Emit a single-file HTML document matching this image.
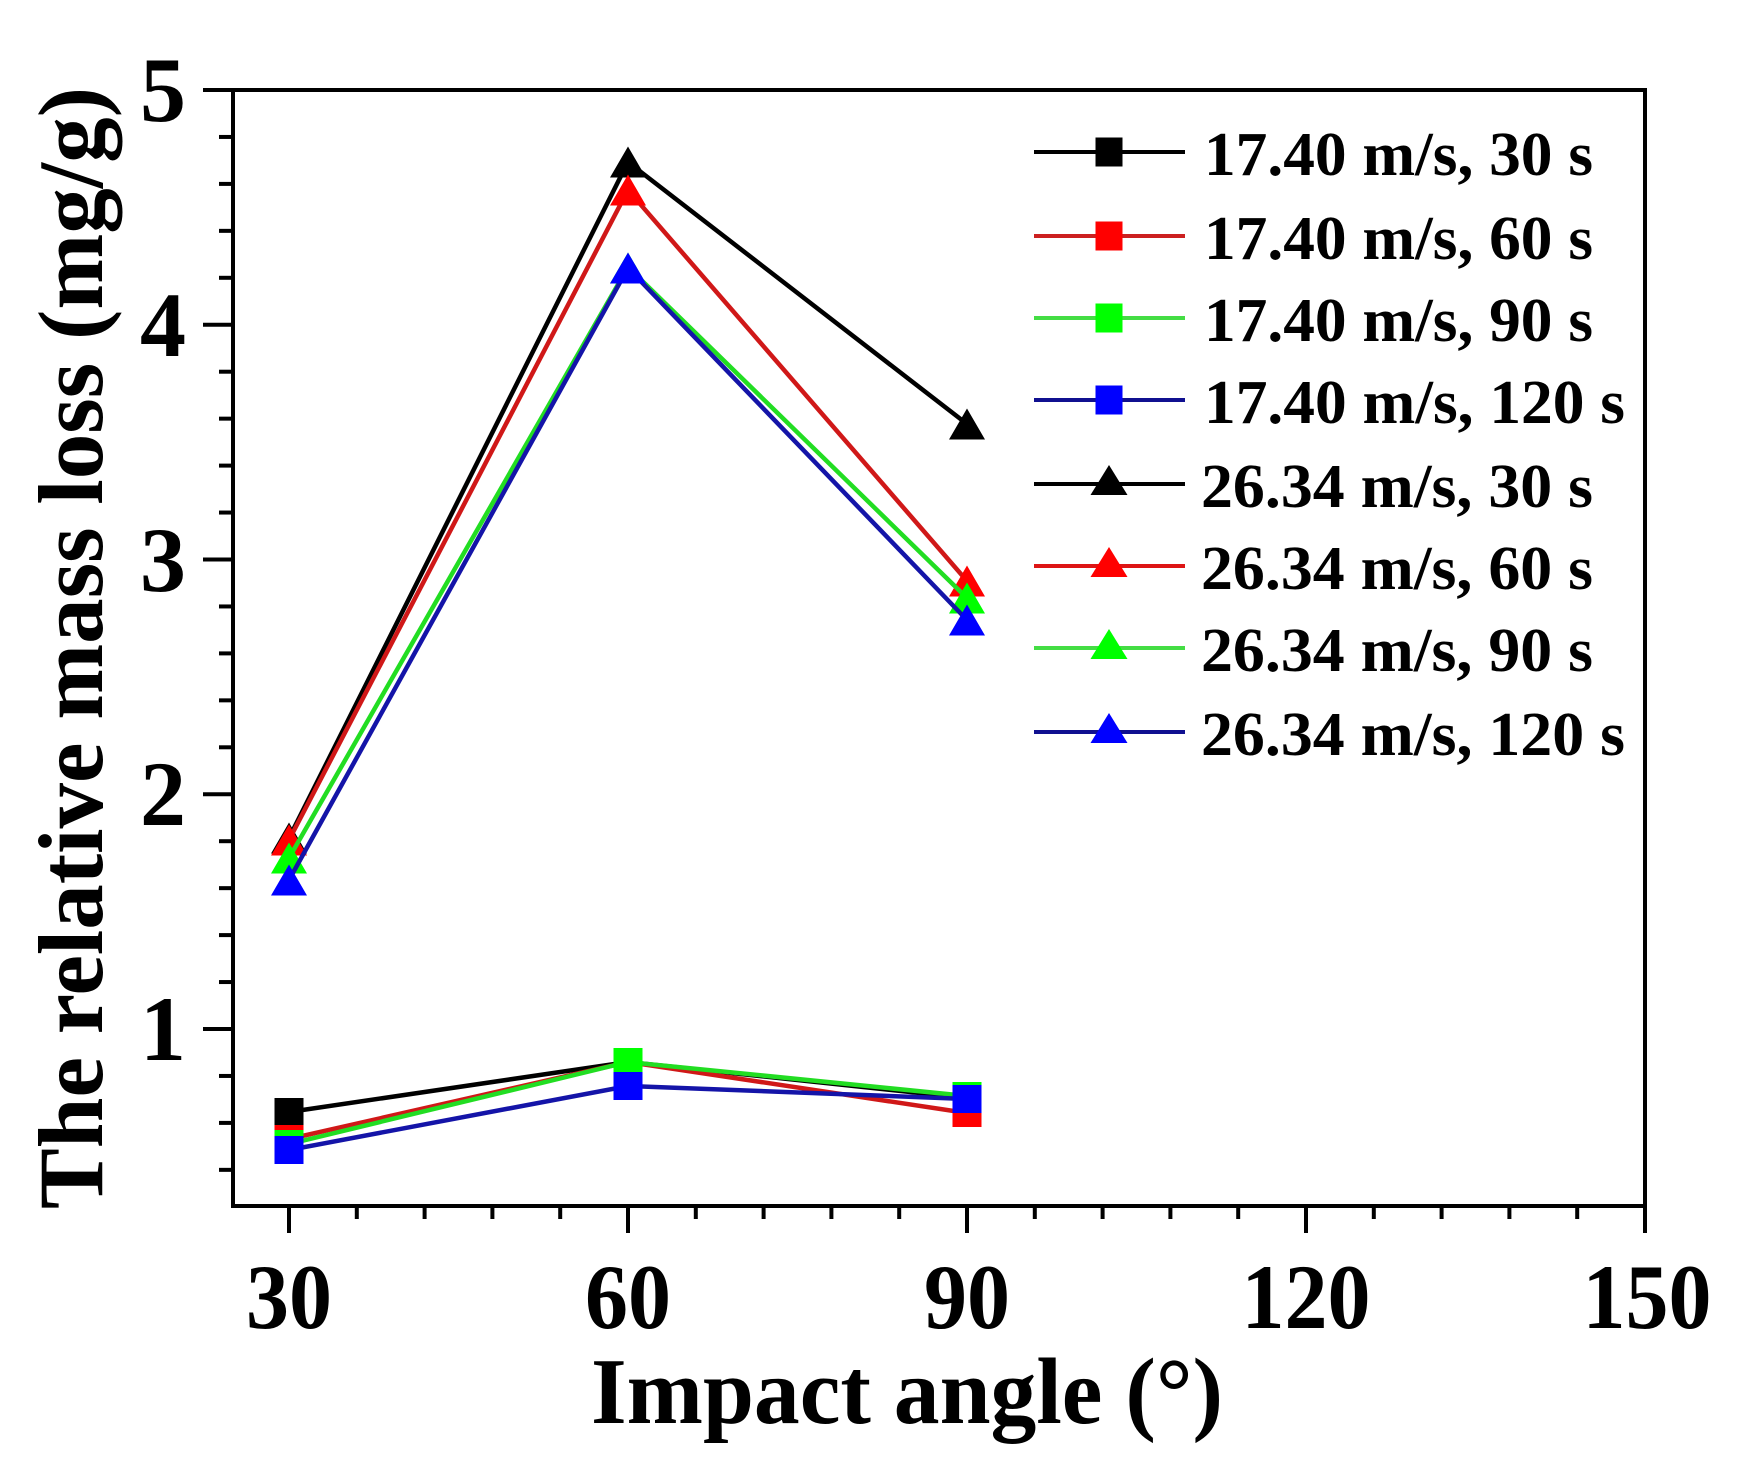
<!DOCTYPE html>
<html>
<head>
<meta charset="utf-8">
<style>
  html,body{margin:0;padding:0;background:#fff;}
  svg{display:block;}
  text{font-family:"Liberation Serif","Times New Roman",serif;font-weight:bold;fill:#000;}
</style>
</head>
<body>
<svg width="1760" height="1473" viewBox="0 0 1760 1473" xmlns="http://www.w3.org/2000/svg">
  <rect x="0" y="0" width="1760" height="1473" fill="#fff"/>

  <!-- Frame -->
  <rect x="233" y="90" width="1412" height="1116" fill="none" stroke="#000" stroke-width="4"/>

  <!-- Y major ticks -->
  <g stroke="#000" stroke-width="4">
    <line x1="203" y1="90" x2="233" y2="90"/>
    <line x1="203" y1="324.75" x2="233" y2="324.75"/>
    <line x1="203" y1="559.5" x2="233" y2="559.5"/>
    <line x1="203" y1="794.25" x2="233" y2="794.25"/>
    <line x1="203" y1="1029" x2="233" y2="1029"/>
  </g>
  <!-- Y minor ticks -->
  <g stroke="#000" stroke-width="4">
    <line x1="219" y1="136.95" x2="233" y2="136.95"/>
    <line x1="219" y1="183.9" x2="233" y2="183.9"/>
    <line x1="219" y1="230.85" x2="233" y2="230.85"/>
    <line x1="219" y1="277.8" x2="233" y2="277.8"/>
    <line x1="219" y1="371.7" x2="233" y2="371.7"/>
    <line x1="219" y1="418.65" x2="233" y2="418.65"/>
    <line x1="219" y1="465.6" x2="233" y2="465.6"/>
    <line x1="219" y1="512.55" x2="233" y2="512.55"/>
    <line x1="219" y1="606.45" x2="233" y2="606.45"/>
    <line x1="219" y1="653.4" x2="233" y2="653.4"/>
    <line x1="219" y1="700.35" x2="233" y2="700.35"/>
    <line x1="219" y1="747.3" x2="233" y2="747.3"/>
    <line x1="219" y1="841.2" x2="233" y2="841.2"/>
    <line x1="219" y1="888.15" x2="233" y2="888.15"/>
    <line x1="219" y1="935.1" x2="233" y2="935.1"/>
    <line x1="219" y1="982.05" x2="233" y2="982.05"/>
    <line x1="219" y1="1075.95" x2="233" y2="1075.95"/>
    <line x1="219" y1="1122.9" x2="233" y2="1122.9"/>
    <line x1="219" y1="1169.85" x2="233" y2="1169.85"/>
  </g>

  <!-- X major ticks -->
  <g stroke="#000" stroke-width="4">
    <line x1="289" y1="1206" x2="289" y2="1233"/>
    <line x1="628" y1="1206" x2="628" y2="1233"/>
    <line x1="967" y1="1206" x2="967" y2="1233"/>
    <line x1="1306" y1="1206" x2="1306" y2="1233"/>
    <line x1="1645" y1="1206" x2="1645" y2="1233"/>
  </g>
  <!-- X minor ticks -->
  <g stroke="#000" stroke-width="4">
    <line x1="356.8" y1="1206" x2="356.8" y2="1219"/>
    <line x1="424.6" y1="1206" x2="424.6" y2="1219"/>
    <line x1="492.4" y1="1206" x2="492.4" y2="1219"/>
    <line x1="560.2" y1="1206" x2="560.2" y2="1219"/>
    <line x1="695.8" y1="1206" x2="695.8" y2="1219"/>
    <line x1="763.6" y1="1206" x2="763.6" y2="1219"/>
    <line x1="831.4" y1="1206" x2="831.4" y2="1219"/>
    <line x1="899.2" y1="1206" x2="899.2" y2="1219"/>
    <line x1="1034.8" y1="1206" x2="1034.8" y2="1219"/>
    <line x1="1102.6" y1="1206" x2="1102.6" y2="1219"/>
    <line x1="1170.4" y1="1206" x2="1170.4" y2="1219"/>
    <line x1="1238.2" y1="1206" x2="1238.2" y2="1219"/>
    <line x1="1373.8" y1="1206" x2="1373.8" y2="1219"/>
    <line x1="1441.6" y1="1206" x2="1441.6" y2="1219"/>
    <line x1="1509.4" y1="1206" x2="1509.4" y2="1219"/>
    <line x1="1577.2" y1="1206" x2="1577.2" y2="1219"/>
  </g>

  <!-- Y tick labels -->
  <g font-size="92" text-anchor="end">
    <text x="186" y="121">5</text>
    <text x="186" y="356">4</text>
    <text x="186" y="591">3</text>
    <text x="186" y="825">2</text>
    <text x="186" y="1060">1</text>
  </g>

  <!-- X tick labels -->
  <g font-size="92" text-anchor="middle">
    <text x="289" y="1328" textLength="86" lengthAdjust="spacingAndGlyphs">30</text>
    <text x="628" y="1328" textLength="86" lengthAdjust="spacingAndGlyphs">60</text>
    <text x="967" y="1328" textLength="86" lengthAdjust="spacingAndGlyphs">90</text>
    <text x="1306" y="1328" textLength="129" lengthAdjust="spacingAndGlyphs">120</text>
    <text x="1647" y="1328" textLength="129" lengthAdjust="spacingAndGlyphs">150</text>
  </g>

  <!-- Axis titles -->
  <text x="907" y="1423" font-size="94" text-anchor="middle" textLength="632" lengthAdjust="spacingAndGlyphs">Impact angle (°)</text>
  <text transform="translate(102,648) rotate(-90)" x="0" y="0" font-size="92" text-anchor="middle" textLength="1122" lengthAdjust="spacingAndGlyphs">The relative mass loss (mg/g)</text>

  <!-- Series 1: 17.40 m/s, 30 s (black squares) -->
  <polyline points="289,1112 628,1062 967,1098" fill="none" stroke="#000" stroke-width="4.5"/>
  <g fill="#000">
    <rect x="274.5" y="1098" width="29" height="28"/>
    <rect x="613.5" y="1048" width="29" height="28"/>
    <rect x="952.5" y="1084" width="29" height="28"/>
  </g>
  <!-- Series 2: 17.40 m/s, 60 s (red squares) -->
  <polyline points="289,1139 628,1062 967,1113" fill="none" stroke="#d01818" stroke-width="4.5"/>
  <g fill="#ff0000">
    <rect x="274.5" y="1125" width="29" height="28"/>
    <rect x="613.5" y="1048" width="29" height="28"/>
    <rect x="952.5" y="1099" width="29" height="28"/>
  </g>
  <!-- Series 3: 17.40 m/s, 90 s (green squares) -->
  <polyline points="289,1144 628,1062 967,1096" fill="none" stroke="#22dd22" stroke-width="4.5"/>
  <g fill="#00ff00">
    <rect x="274.5" y="1130" width="29" height="28"/>
    <rect x="613.5" y="1048" width="29" height="28"/>
    <rect x="952.5" y="1082" width="29" height="28"/>
  </g>
  <!-- Series 4: 17.40 m/s, 120 s (blue squares) -->
  <polyline points="289,1150 628,1086 967,1099" fill="none" stroke="#1414a8" stroke-width="4.5"/>
  <g fill="#0000ff">
    <rect x="274.5" y="1136" width="29" height="28"/>
    <rect x="613.5" y="1072" width="29" height="28"/>
    <rect x="952.5" y="1085" width="29" height="28"/>
  </g>

  <!-- Series 5: 26.34 m/s, 30 s (black triangles) -->
  <polyline points="289,838 628,162 967,424" fill="none" stroke="#000" stroke-width="4.5"/>
  <g fill="#000">
    <polygon points="289,822.5 307,853.5 271,853.5"/>
    <polygon points="628,146.5 646,177.5 610,177.5"/>
    <polygon points="967,408.5 985,439.5 949,439.5"/>
  </g>
  <!-- Series 6: 26.34 m/s, 60 s (red triangles) -->
  <polyline points="289,840 628,190 967,581" fill="none" stroke="#d01818" stroke-width="4.5"/>
  <g fill="#ff0000">
    <polygon points="289,824.5 307,855.5 271,855.5"/>
    <polygon points="628,174.5 646,205.5 610,205.5"/>
    <polygon points="967,565.5 985,596.5 949,596.5"/>
  </g>
  <!-- Series 7: 26.34 m/s, 90 s (green triangles) -->
  <polyline points="289,858 628,267 967,598" fill="none" stroke="#22dd22" stroke-width="4.5"/>
  <g fill="#00ff00">
    <polygon points="289,842.5 307,873.5 271,873.5"/>
    <polygon points="628,252.5 646,283.5 610,283.5"/>
    <polygon points="967,582.5 985,613.5 949,613.5"/>
  </g>
  <!-- Series 8: 26.34 m/s, 120 s (blue triangles) -->
  <polyline points="289,880 628,268 967,620" fill="none" stroke="#1414a8" stroke-width="4.5"/>
  <g fill="#0000ff">
    <polygon points="289,864.5 307,895.5 271,895.5"/>
    <polygon points="628,252.5 646,283.5 610,283.5"/>
    <polygon points="967,604.5 985,635.5 949,635.5"/>
  </g>

  <!-- Legend -->
  <g stroke-width="4">
    <line x1="1034" y1="152" x2="1185" y2="152" stroke="#000"/>
    <line x1="1034" y1="236" x2="1185" y2="236" stroke="#cc2020"/>
    <line x1="1034" y1="318" x2="1185" y2="318" stroke="#44dd44"/>
    <line x1="1034" y1="400" x2="1185" y2="400" stroke="#101090"/>
    <line x1="1034" y1="484" x2="1185" y2="484" stroke="#000"/>
    <line x1="1034" y1="566" x2="1185" y2="566" stroke="#dd1515"/>
    <line x1="1034" y1="648" x2="1185" y2="648" stroke="#44dd44"/>
    <line x1="1034" y1="732" x2="1185" y2="732" stroke="#101090"/>
  </g>
  <rect x="1095.5" y="137.5" width="27" height="29" fill="#000"/>
  <rect x="1095.5" y="221.5" width="27" height="29" fill="#ff0000"/>
  <rect x="1095.5" y="303.5" width="27" height="29" fill="#00ff00"/>
  <rect x="1095.5" y="385.5" width="27" height="29" fill="#0000ff"/>
  <polygon points="1109,465 1127.5,495 1090.5,495" fill="#000"/>
  <polygon points="1109,547 1127.5,577 1090.5,577" fill="#ff0000"/>
  <polygon points="1109,629 1127.5,659 1090.5,659" fill="#00ff00"/>
  <polygon points="1109,713 1127.5,743 1090.5,743" fill="#0000ff"/>

  <g font-size="62">
    <text x="1204" y="175" textLength="389" lengthAdjust="spacingAndGlyphs">17.40 m/s, 30 s</text>
    <text x="1204" y="259" textLength="389" lengthAdjust="spacingAndGlyphs">17.40 m/s, 60 s</text>
    <text x="1204" y="341" textLength="389" lengthAdjust="spacingAndGlyphs">17.40 m/s, 90 s</text>
    <text x="1204" y="423" textLength="421" lengthAdjust="spacingAndGlyphs">17.40 m/s, 120 s</text>
    <text x="1201" y="507" textLength="392" lengthAdjust="spacingAndGlyphs">26.34 m/s, 30 s</text>
    <text x="1201" y="589" textLength="392" lengthAdjust="spacingAndGlyphs">26.34 m/s, 60 s</text>
    <text x="1201" y="671" textLength="392" lengthAdjust="spacingAndGlyphs">26.34 m/s, 90 s</text>
    <text x="1201" y="755" textLength="424" lengthAdjust="spacingAndGlyphs">26.34 m/s, 120 s</text>
  </g>
</svg>
</body>
</html>
